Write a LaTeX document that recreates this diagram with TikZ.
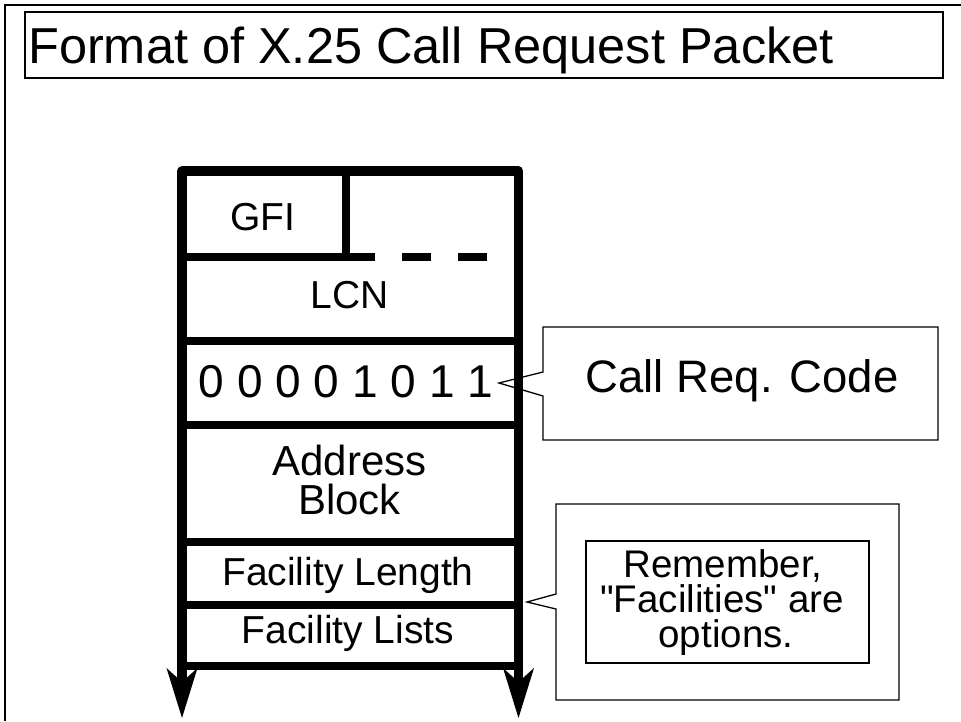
\documentclass[tikz,border=0pt]{standalone}
\usepackage{fontspec}
\setmainfont{Liberation Sans}
\newfontfamily\plainsans{Liberation Sans}
\usetikzlibrary{arrows.meta}
\begin{document}
\begin{tikzpicture}[x=1pt,y=-1pt,
  fieldline/.style={line width=9.5pt, line join=round},
  thinline/.style={line width=1.3pt},
  fieldtext/.style={anchor=base, inner sep=0pt, font=\fontsize{39}{39}\selectfont},
  notetext/.style={anchor=base, inner sep=0pt, font=\plainsans\fontsize{38.5}{38.5}\selectfont},
  downarrow/.style={line width=9.5pt, -{Stealth[length=50pt,width=31pt,inset=14pt,line width=0pt]}}]
\useasboundingbox (0,0) rectangle (961,721);
% outer frame
\draw[line width=2.5pt] (5,721) -- (5,5) -- (961,5);
% title
\draw[thinline] (25,12) rectangle (943,78);
\node[anchor=base west, inner sep=0pt, font=\fontsize{50.5}{50.5}\selectfont] (title) at (28,63) {Format of X.25 Call Request Packet};
% packet frame
\draw[fieldline] (182,666) -- (182,171) -- (518.5,171) -- (518.5,666);
\coordinate (lstart) at (182,660);
\coordinate (lend) at (182,718);
\coordinate (rstart) at (518.5,660);
\coordinate (rend) at (518.5,718);
\draw[downarrow] (lstart) -- (lend);
\draw[downarrow] (rstart) -- (rend);
% dividers
\draw[line width=8pt] (345.5,171) -- (345.5,257);
\draw[line width=8pt] (182,257) -- (346,257);
\draw[line width=8pt, dash pattern=on 29pt off 27pt] (346,257) -- (518.5,257);
\foreach \yy in {341,425,542,605,666}
  \draw[line width=8pt] (182,\yy) -- (518.5,\yy);
% field texts
\node[fieldtext] (gfi) at (263,230) {GFI};
\node[fieldtext] (lcn) at (350,308) {LCN};
\node[fieldtext, font=\fontsize{46}{46}\selectfont] (code) at (346,397) {0 0 0 0 1 0 1 1};
\node[fieldtext, font=\fontsize{42}{42}\selectfont] (addr1) at (349.5,475) {Address};
\node[fieldtext, font=\fontsize{42}{42}\selectfont] (addr2) at (349.5,514) {Block};
\node[fieldtext] (faclen) at (348,585) {Facility Length};
\node[fieldtext] (faclist) at (348,643) {Facility Lists};
% callout 1
\draw[thinline, line join=miter] (543,396) -- (543,440) -- (938,440) -- (938,327) -- (543,327) -- (543,372) -- (499,383) -- cycle;
\node[anchor=base, inner sep=0pt, font=\fontsize{45.5}{45.5}\selectfont] (callreq) at (742,392) {Call Req. Code};
% callout 2
\draw[thinline, line join=miter] (556,609) -- (556,700) -- (899,700) -- (899,504) -- (556,504) -- (556,594) -- (527,602) -- cycle;
\draw[thinline] (586,541) rectangle (869,663);
\node[notetext] (rem1) at (723,577) {Remember,};
\node[notetext] (rem2) at (722,612) {"Facilities" are};
\node[notetext] (rem3) at (726,647) {options.};
\end{tikzpicture}
\end{document}
